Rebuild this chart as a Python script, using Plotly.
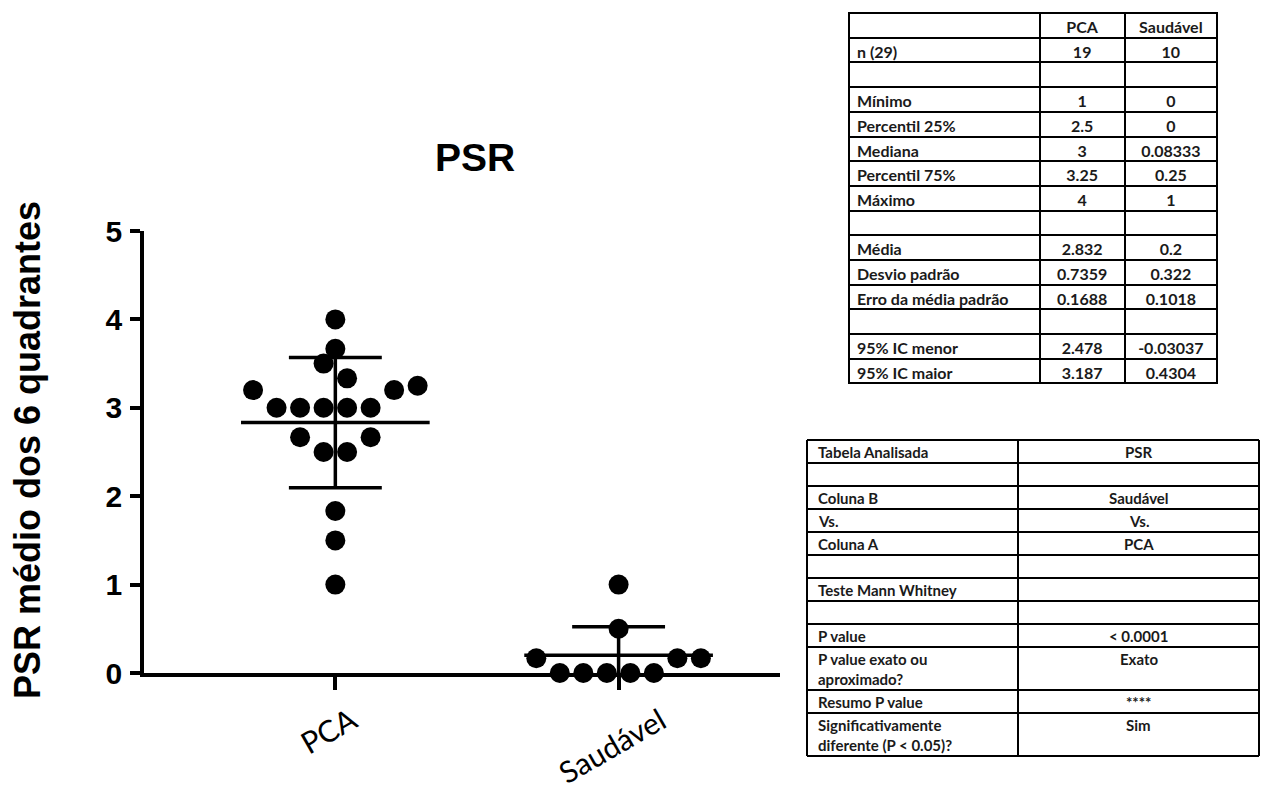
import numpy as np
import plotly.graph_objects as go
from collections import Counter

# ---------------- data ----------------
categories = ["PCA", "Saudável"]
pca_values = [1, 1.5, 1.833, 2.5, 2.5, 2.667, 2.667, 3, 3, 3, 3, 3,
              3.2, 3.2, 3.25, 3.333, 3.5, 3.667, 4]
saudavel_values = [0, 0, 0, 0, 0, 0.1667, 0.1667, 0.1667, 0.5, 1]
y_ticks = [0, 1, 2, 3, 4, 5]

chart_title = "PSR"
y_title = "PSR médio dos 6 quadrantes"

stats_header = ["", "PCA", "Saudável"]
stats_labels = ["n (29)", "", "Mínimo", "Percentil 25%", "Mediana", "Percentil 75%",
                "Máximo", "", "Média", "Desvio padrão", "Erro da média padrão", "",
                "95% IC menor", "95% IC maior"]
stats_pca = ["19", "", "1", "2.5", "3", "3.25", "4", "", "2.832", "0.7359",
             "0.1688", "", "2.478", "3.187"]
stats_saudavel = ["10", "", "0", "0", "0.08333", "0.25", "1", "", "0.2", "0.322",
                  "0.1018", "", "-0.03037", "0.4304"]

test_header = ["Tabela Analisada", "PSR"]
test_labels = ["", "Coluna B", "Vs.", "Coluna A", "", "Teste Mann Whitney", "",
               "P value", "P value exato ou<br>aproximado?", "Resumo P value",
               "Significativamente<br>diferente (P &lt; 0.05)?"]
test_values = ["", "Saudável", "Vs.", "PCA", "", "", "", "&lt; 0.0001", "Exato",
               "****", "Sim"]

# ---------------- layout constants ----------------
W, H = 1263, 790
SLOT = 0.083          # horizontal spacing between neighbouring dots (x units)
MEAN_HALF = 0.333     # half length of mean line
CAP_HALF = 0.164      # half length of SD caps
LW = 3.5
ARIAL = "Arial, Liberation Sans, sans-serif"
TABFONT = "Lato, Open Sans, sans-serif"

# second table geometry (pixels)
T2_LEFT, T2_MID, T2_RIGHT, T2_TOP = 807, 1018, 1259, 440
ROW_H, LINE_H = 23, 20


def swarm_offsets(values, threshold=0.3):
    order = sorted(range(len(values)), key=lambda i: values[i])
    clusters = []
    for i in order:
        if clusters and values[i] - values[clusters[-1][0]] < threshold:
            clusters[-1].append(i)
        else:
            clusters.append([i])
    offs = [0.0] * len(values)
    for cl in clusters:
        cnt = Counter(values[i] for i in cl)
        mode = max(cnt, key=lambda v: (cnt[v], -v if cnt[v] > 1 else v))
        core = [i for i in cl if values[i] == mode]
        rest = [i for i in cl if values[i] != mode]
        nleft = len(rest) // 2
        arranged = rest[:nleft] + core + rest[nleft:]
        n = len(arranged)
        for k, i in enumerate(arranged):
            offs[i] = k - (n - 1) / 2
    return offs


fig = go.Figure()
groups = [pca_values, saudavel_values]

for ci, vals in enumerate(groups):
    offs = swarm_offsets(vals)
    fig.add_trace(go.Scatter(
        x=[ci + o * SLOT for o in offs], y=vals, mode="markers",
        marker=dict(color="black", size=20, line=dict(width=0)),
        cliponaxis=False, showlegend=False, hoverinfo="skip"))

for ci, vals in enumerate(groups):
    arr = np.array(vals, dtype=float)
    m = arr.mean()
    sd = arr.std(ddof=1)
    lo = max(m - sd, 0)
    hi = m + sd
    xs = [ci - MEAN_HALF, ci + MEAN_HALF, None, ci, ci, None,
          ci - CAP_HALF, ci + CAP_HALF]
    ys = [m, m, None, lo, hi, None, hi, hi]
    if m - sd >= 0:
        xs += [None, ci - CAP_HALF, ci + CAP_HALF]
        ys += [None, lo, lo]
    fig.add_trace(go.Scatter(
        x=xs, y=ys, mode="lines", line=dict(color="black", width=LW),
        cliponaxis=False, showlegend=False, hoverinfo="skip"))

# category labels (rotated, centred under ticks)
for ci, name in enumerate(categories):
    fig.add_annotation(
        x=ci, y=1 - 697 / H, xref="x", yref="paper", text=name,
        textangle=-30, showarrow=False, xanchor="center", yanchor="top",
        xshift=-7, font=dict(family=TABFONT, size=30, color="black"))

fig.add_annotation(
    x=27 / W, y=1 - 450 / H, xref="paper", yref="paper", text=y_title,
    textangle=-90, showarrow=False, xanchor="center", yanchor="middle",
    font=dict(family=ARIAL, size=36, color="black", weight="bold"))

# ---------------- table 1 (descriptive statistics) ----------------
TF1 = dict(family=TABFONT, size=16, color="#1a1a1a", weight="bold")
fig.add_trace(go.Table(
    domain=dict(x=[849 / W, 1218 / W], y=[0.45, 1 - 13 / H]),
    columnwidth=[190, 85, 92],
    header=dict(values=stats_header, height=24.7,
                align=["left", "center", "center"],
                line=dict(color="black", width=2), fill=dict(color="white"),
                font=TF1),
    cells=dict(values=[stats_labels, stats_pca, stats_saudavel], height=24.7,
               align=["left", "center", "center"],
               line=dict(color="black", width=2), fill=dict(color="white"),
               font=TF1)))

# ---------------- table 2 (Mann-Whitney test) ----------------
TF2 = dict(family=TABFONT, size=15, color="#1a1a1a", weight="bold")
rows = [tuple(test_header)] + list(zip(test_labels, test_values))
ytop = T2_TOP
bounds = [ytop]
for lab, val in rows:
    nlines = max(lab.count("<br>"), val.count("<br>")) + 1
    h = ROW_H + LINE_H * (nlines - 1)
    if lab:
        fig.add_annotation(x=(T2_LEFT + 9) / W, y=1 - (ytop + 1) / H,
                           xref="paper", yref="paper", text=lab, showarrow=False,
                           xanchor="left", yanchor="top", align="left", font=TF2)
    if val:
        fig.add_annotation(x=(T2_MID + T2_RIGHT) / 2 / W, y=1 - (ytop + 1) / H,
                           xref="paper", yref="paper", text=val, showarrow=False,
                           xanchor="center", yanchor="top", align="center", font=TF2)
    ytop += h
    bounds.append(ytop)

border = dict(color="black", width=2)
for yb in bounds:
    fig.add_shape(type="line", xref="paper", yref="paper",
                  x0=T2_LEFT / W, x1=T2_RIGHT / W, y0=1 - yb / H, y1=1 - yb / H,
                  line=border)
for xb in (T2_LEFT, T2_MID, T2_RIGHT):
    fig.add_shape(type="line", xref="paper", yref="paper",
                  x0=xb / W, x1=xb / W, y0=1 - bounds[0] / H, y1=1 - bounds[-1] / H,
                  line=border)

fig.update_layout(
    width=W, height=H, autosize=False,
    margin=dict(l=0, r=0, t=0, b=0, pad=0, autoexpand=False),
    paper_bgcolor="white", plot_bgcolor="white",
    title=dict(text=chart_title, x=475 / W, y=1 - 157 / H, xref="paper", yref="paper",
               xanchor="center", yanchor="middle", automargin=False,
               font=dict(family=ARIAL, size=39, color="black", weight="bold")),
    xaxis=dict(domain=[144 / W, 780 / W], range=[-0.6755, 1.5698], automargin=False,
               showgrid=False, zeroline=False, showline=True, linecolor="black",
               linewidth=LW, ticks="outside", ticklen=13, tickwidth=LW,
               tickcolor="black", tickvals=list(range(len(categories))),
               showticklabels=False, fixedrange=True),
    yaxis=dict(domain=[1 - 673 / H, 1 - 231 / H], range=[0, 5], automargin=False,
               showgrid=False, zeroline=False, showline=True, linecolor="black",
               linewidth=LW, ticks="outside", ticklen=10, tickwidth=LW,
               tickcolor="black", tickvals=y_ticks, ticklabelstandoff=2,
               tickfont=dict(family=ARIAL, size=30, color="black", weight="bold"),
               fixedrange=True),
)

fig.write_html("out.html")
